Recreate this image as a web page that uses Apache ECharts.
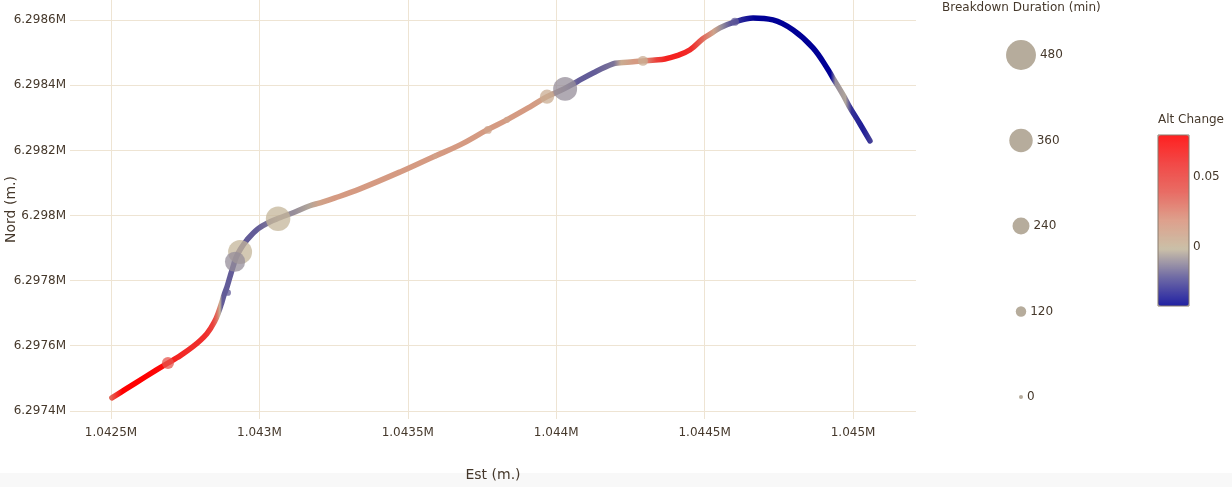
<!DOCTYPE html>
<html><head><meta charset="utf-8">
<script src="https://cdn.jsdelivr.net/npm/echarts@6/dist/echarts.min.js"></script>
<style>html,body{margin:0;padding:0;background:#fff}#c{width:1232px;height:487px}</style>
</head><body><div id="c"></div><script>
// trajectory (Est, Nord, altitude change)
const pathEst = [1042503,1042547,1042615,1042692,1042722,1042776,1042823,1042850,1042864,1042874,1042881,1042891,1042901,1042911,1042921,1042935,1042958,1042995,1043036,1043069,1043120,1043170,1043204,1043255,1043339,1043474,1043585,1043676,1043767,1043834,1043912,1043969,1044026,1044070,1044124,1044191,1044215,1044259,1044292,1044333,1044366,1044407,1044451,1044494,1044525,1044552,1044602,1044663,1044730,1044798,1044865,1044916,1044932,1044966,1044986,1045023,1045057];
const pathNord = [6297440,6297465,6297504,6297547,6297563,6297597,6297637,6297676,6297707,6297735,6297756,6297781,6297812,6297842,6297870,6297895,6297925,6297959,6297981,6297993,6298011,6298030,6298039,6298054,6298082,6298134,6298180,6298217,6298263,6298294,6298334,6298365,6298389,6298411,6298438,6298466,6298469,6298472,6298475,6298478,6298481,6298491,6298509,6298543,6298561,6298577,6298595,6298607,6298601,6298570,6298515,6298448,6298423,6298371,6298337,6298282,6298229];
const pathAlt = [0.03,0.08,0.08,0.075,0.065,0.06,0.06,0.05,0.03,0.0,-0.02,-0.02,-0.02,-0.02,-0.02,-0.02,-0.02,-0.02,-0.015,-0.01,-0.01,-0.005,0.01,0.015,0.015,0.015,0.015,0.015,0.015,0.015,0.015,0.01,-0.01,-0.02,-0.02,-0.015,0.005,0.015,0.015,0.05,0.065,0.065,0.06,0.03,0.01,-0.01,-0.03,-0.042,-0.042,-0.042,-0.042,-0.042,-0.01,-0.005,-0.03,-0.035,-0.025];

// breakdowns
const brkEst  = [1042692,1042894,1042935,1042918,1043063,1043592,1043770,1043834,1043969,1044030,1044292,1044602];
const brkNord = [6297547,6297763,6297888,6297858,6297990,6298183,6298263,6298294,6298365,6298389,6298475,6298595];
const brkDur  = [150,40,370,300,380,20,70,40,190,370,110,75];
const brkAlt  = [0.04,-0.02,0.0,-0.01,0.0,0.01,0.01,0.01,0.005,-0.01,0.005,-0.02];

const sizeLegendValues = [0,120,240,360,480];
const colorTicks = [0, 0.05];
const altMin = -0.042, altMax = 0.08;

const palette = ['#000096','#5a5498','#c3b79b','#d9937c','#e5574e','#f02e2c','#ff0000'];
const textColor = '#45382b';
const gridColor = '#eee4d3';
const FONT = 'DejaVu Sans';

function hex(h){return [parseInt(h.substr(1,2),16),parseInt(h.substr(3,2),16),parseInt(h.substr(5,2),16)];}
function altColor(v){
  let t=(v-altMin)/(altMax-altMin); t=Math.max(0,Math.min(1,t));
  const p=t*(palette.length-1); const i=Math.min(palette.length-2,Math.floor(p)); const f=p-i;
  const a=hex(palette[i]), b=hex(palette[i+1]);
  return 'rgb('+a.map((c,k)=>Math.round(c+(b[k]-c)*f)).join(',')+')';
}
const x0=pathEst[0], x1=pathEst[pathEst.length-1];
const stops = pathEst.map((x,i)=>({offset:(x-x0)/(x1-x0), color:altColor(pathAlt[i])}));
const sizeOf = v => 4 + v*0.054;
const fmtM = v => (v/1e6).toFixed(4).replace(/0+$/,'').replace(/\.$/,'') + 'M';

const barTop=135, barH=171, barLeft=1158, barW=31;
const graphics = [
  {type:'rect', left:0, top:473, z:-10, shape:{width:1232,height:14}, style:{fill:'#f8f8f8'}},
  {type:'text', left:942, top:2, style:{text:'Breakdown Duration (min)', fill:textColor, font:'12px '+FONT}},
  {type:'text', x:1191, y:120, style:{text:'Alt Change', fill:textColor, font:'12px '+FONT, textAlign:'center', textVerticalAlign:'middle'}},
  {type:'rect', x:barLeft, y:barTop, z:100, shape:{width:barW,height:barH}, style:{fill:'rgba(255,255,255,0.13)', stroke:'#877a6c', lineWidth:1}}
];
colorTicks.forEach(v=>{
  graphics.push({type:'text', x:barLeft+barW+4, y:barTop+(altMax-v)/(altMax-altMin)*barH,
    style:{text:String(v), fill:textColor, font:'12px '+FONT, textVerticalAlign:'middle'}});
});

const chart = echarts.init(document.getElementById('c'));
chart.setOption({
  backgroundColor:'#fff',
  animation:false,
  textStyle:{fontFamily:FONT},
  grid:[
    {left:70, right:316, top:0, bottom:68, outerBoundsMode:'none', containLabel:false},
    {left:1011, width:20, top:55, height:342, outerBoundsMode:'none', containLabel:false}
  ],
  xAxis:[
    {type:'value', min:1042362, max:1045212, splitNumber:5,
     name:'Est (m.)', nameLocation:'middle', nameGap:49, nameMoveOverlap:false,
     nameTextStyle:{color:textColor, fontSize:14, fontFamily:FONT},
     axisLine:{show:false}, axisTick:{show:false},
     axisLabel:{color:textColor, fontSize:12, margin:8, formatter:fmtM, showMinLabel:false, showMaxLabel:false},
     splitLine:{show:true, showMinLine:false, showMaxLine:false, lineStyle:{color:gridColor, width:1}}},
    {gridIndex:1, type:'value', min:-1, max:1, show:false}
  ],
  yAxis:[
    {type:'value', min:6297375, max:6298662, splitNumber:6,
     name:'Nord (m.)', nameLocation:'middle', nameGap:52, nameMoveOverlap:false,
     nameTextStyle:{color:textColor, fontSize:14, fontFamily:FONT},
     axisLine:{show:false}, axisTick:{show:false},
     axisLabel:{color:textColor, fontSize:12, margin:4, formatter:fmtM, showMinLabel:false, showMaxLabel:false},
     splitLine:{show:true, showMinLine:false, showMaxLine:false, lineStyle:{color:gridColor, width:1}}},
    {gridIndex:1, type:'value', min:0, max:480, show:false}
  ],
  visualMap:[{
    type:'continuous', seriesIndex:1, dimension:3, min:altMin, max:altMax,
    inRange:{color:palette}, left:barLeft, top:barTop, itemWidth:barW, itemHeight:barH,
    calculable:false, padding:0, hoverLink:false, text:null, orient:'vertical'
  }],
  series:[
    {type:'line', data:pathEst.map((x,i)=>[x,pathNord[i]]), smooth:0.4, symbol:'none', z:2,
     lineStyle:{width:5.5, cap:'round', join:'round',
       color:new echarts.graphic.LinearGradient(0,0,1,0,stops)}},
    {type:'scatter', data:brkEst.map((x,i)=>[x,brkNord[i],brkDur[i],brkAlt[i]]), z:3,
     symbolSize:d=>sizeOf(d[2]), itemStyle:{opacity:0.75}},
    {type:'scatter', xAxisIndex:1, yAxisIndex:1, data:sizeLegendValues.map(v=>[0,v]),
     symbolSize:d=>sizeOf(d[1]), itemStyle:{color:'#b6ac9c', opacity:1},
     label:{show:true, position:'right', distance:4, color:textColor, fontSize:12, fontFamily:FONT,
       formatter:p=>String(p.value[1])}}
  ],
  graphic:graphics
});
</script></body></html>
